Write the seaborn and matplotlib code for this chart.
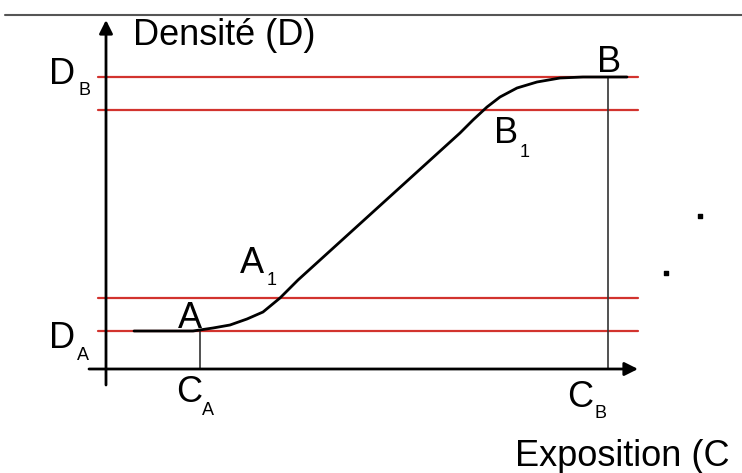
import matplotlib
matplotlib.use("Agg")
import matplotlib.pyplot as plt
import seaborn as sns
import pandas as pd

# -------------------------------
# Curve data (picture units, y grows downward)
# -------------------------------
exposure = [134, 193, 213, 230, 247, 263, 280, 298, 460, 473, 487, 500,
            517, 537, 560, 583, 627]
density = [331, 331, 328, 325, 319, 312, 298, 280, 133, 120, 107, 97,
           88, 82, 78, 77, 77]

# reference levels
level_names = ["D_B", "B_1", "A_1", "D_A"]
level_values = [77, 110, 298, 331]
c_a, c_b = 200, 608

curve = pd.DataFrame({"exposure": exposure, "density": density})

# -------------------------------
# Style
# -------------------------------
sns.set_style("white")
plt.rcParams["font.family"] = ["Liberation Sans", "DejaVu Sans"]

fig = plt.figure(figsize=(7.42, 4.73), dpi=100)
ax = fig.add_axes([0, 0, 1, 1])
ax.set_xlim(0, 742)
ax.set_ylim(473, 0)
ax.axis("off")

red = "#d2332e"
big = 26
small = 13

# top rule
ax.plot([5, 742], [15, 15], color="#555555", lw=1.5)

# red density levels
for v in level_values:
    ax.plot([98, 638], [v, v], color=red, lw=1.6, zorder=2)

# vertical drop lines
ax.plot([c_a, c_a], [331, 369], color="#333333", lw=1.2)
ax.plot([c_b, c_b], [77, 369], color="#333333", lw=1.2)

# axes with arrows
arrow = dict(arrowstyle="-|>", lw=2, color="black", mutation_scale=20,
             shrinkA=0, shrinkB=0)
ax.annotate("", xy=(106, 20), xytext=(106, 385), arrowprops=arrow)
ax.annotate("", xy=(638, 369), xytext=(89, 369), arrowprops=arrow)

# characteristic curve
sns.lineplot(data=curve, x="exposure", y="density", ax=ax, color="black",
             lw=2, sort=False, zorder=3)
ax.set_xlim(0, 742)
ax.set_ylim(473, 0)
ax.axis("off")

# labels
def lab(x, y, s, size=big):
    ax.text(x, y, s, fontsize=size, ha="left", va="baseline", color="black")

lab(133, 45, "Densité (D)")
lab(49, 84, "D"); lab(78, 95, "B", small)
lab(49, 348, "D"); lab(77, 360, "A", small)
lab(178, 328, "A")
lab(240, 273, "A"); lab(267, 285, "1", small)
lab(494, 143, "B"); lab(520, 157, "1", small)
lab(597, 72, "B")
lab(176, 402, "C"); lab(202, 415, "A", small)
lab(567, 407, "C"); lab(595, 418, "B", small)
lab(515, 466, "Exposition (C")

# stray dots
ax.scatter([700, 666], [216, 273], marker="s", s=10, color="black")

fig.savefig("out.png", dpi=100)
